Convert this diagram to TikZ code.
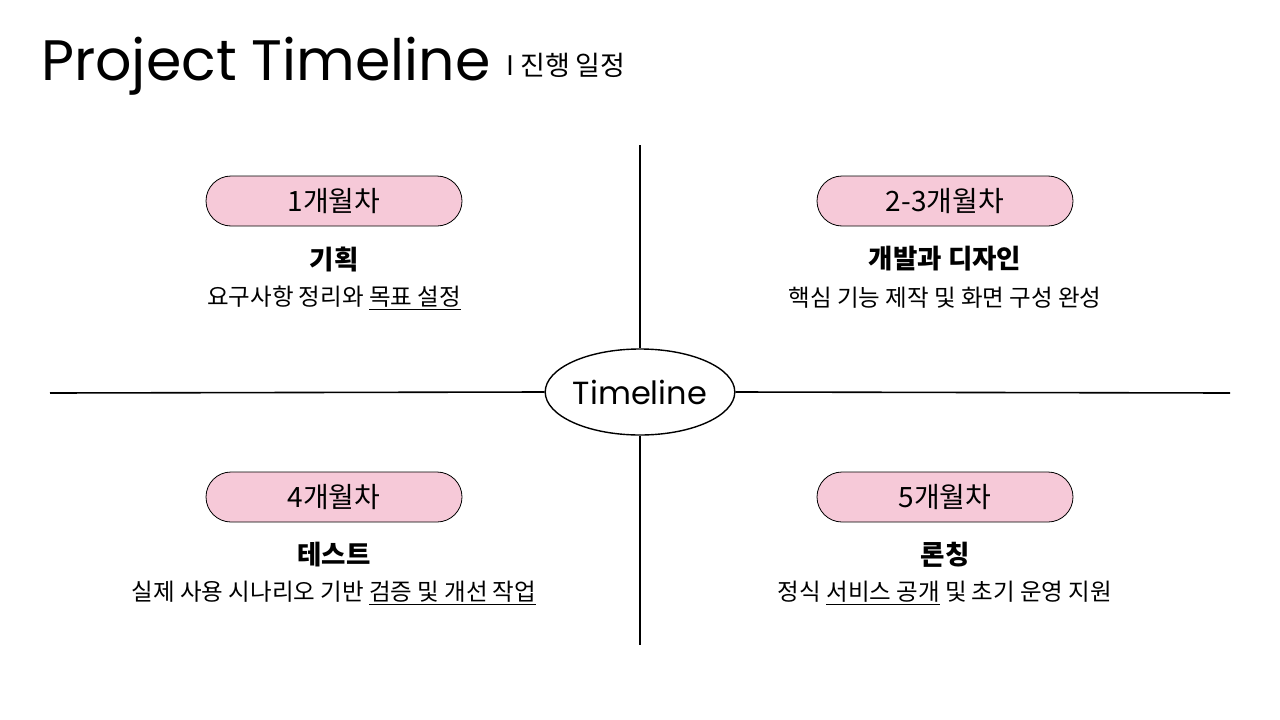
\documentclass[tikz,border=0pt]{standalone}
\usepackage{fontspec}
\setmainfont{Noto Sans CJK KR}
\newfontfamily\latf{Poppins}
\usetikzlibrary{shapes.geometric}
\definecolor{pinkf}{HTML}{F6C9D8}
\tikzset{
 pill/.style={draw=black,line width=0.8pt,fill=pinkf,rounded corners=25pt,minimum width=256pt,minimum height=50pt,font=\fontsize{28}{28}\selectfont},
 head/.style={font=\fontsize{26.5}{26.5}\selectfont\bfseries},
 desc/.style={font=\fontsize{23.5}{23.5}\selectfont},
 axis/.style={line width=1.6pt}
}
\newcommand{\ul}[1]{\underline{#1}}
\begin{document}
\begin{tikzpicture}[x=1pt,y=-1pt]
\useasboundingbox (0,0) rectangle (1280,720);
\node[anchor=base west,inner sep=0,font=\latf\fontsize{57}{57}\selectfont] (title) at (41,80) {Project Timeline};
\node[anchor=base west,inner sep=0,font=\fontsize{27}{27}\selectfont] (sub) at (506,75) {I 진행 일정};
\node[draw,ellipse,line width=1.4pt,minimum width=176pt,minimum height=86pt,inner sep=0,font=\latf\fontsize{32}{32}\selectfont] (tl) at (640,392) {Timeline};
\coordinate (t) at (640,145); \coordinate (b) at (640,645);
\coordinate (l) at (50,393); \coordinate (r) at (1230,393);
\draw[axis] (t) -- (tl.north); \draw[axis] (tl.south) -- (b);
\draw[axis] (l) -- (tl.west); \draw[axis] (tl.east) -- (r);
\node[pill] (p1) at (334,201) {1개월차};
\node[head] (h1) at (334,259) {기획};
\node[desc] (d1) at (334,298) {요구사항 정리와 \ul{목표 설정}};
\node[pill] (p2) at (945,201) {2-3개월차};
\node[head] (h2) at (945,259) {개발과 디자인};
\node[desc] (d2) at (945,298) {핵심 기능 제작 및 화면 구성 완성};
\node[pill] (p3) at (334,497) {4개월차};
\node[head] (h3) at (334,555) {테스트};
\node[desc] (d3) at (334,593) {실제 사용 시나리오 기반 \ul{검증 및 개선 작업}};
\node[pill] (p4) at (945,497) {5개월차};
\node[head] (h4) at (945,555) {론칭};
\node[desc] (d4) at (945,593) {정식 \ul{서비스 공개} 및 초기 운영 지원};
\end{tikzpicture}
\end{document}
